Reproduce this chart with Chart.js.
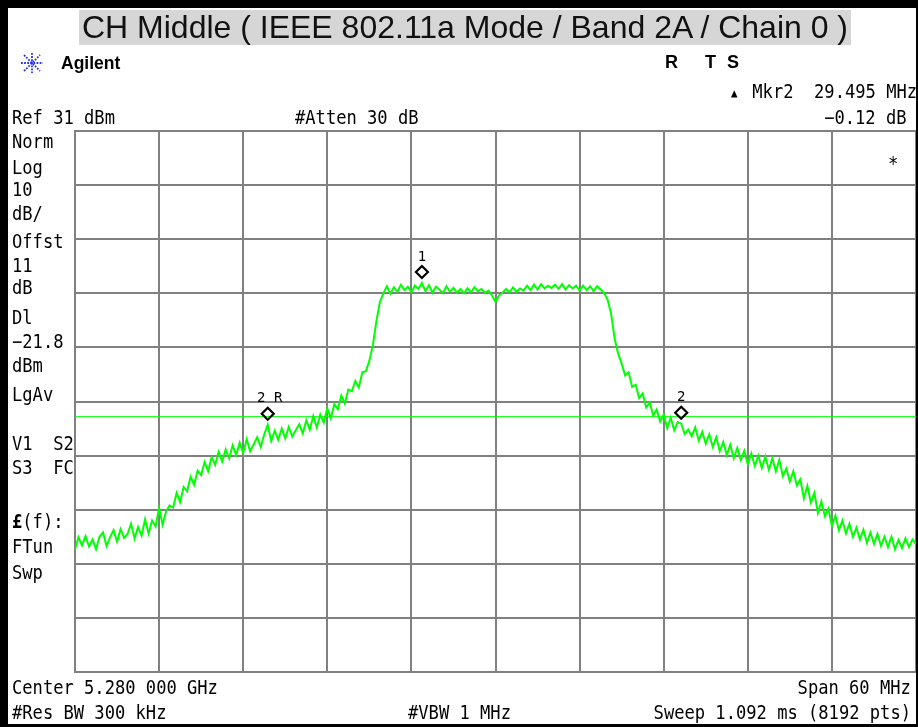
<!DOCTYPE html>
<html>
<head>
<meta charset="utf-8">
<script src="https://cdn.jsdelivr.net/npm/chart.js@4.4.1/dist/chart.umd.min.js"></script>
<style>
  html, body { margin: 0; padding: 0; background: #fff; }
  #wrap { position: relative; width: 918px; height: 727px; overflow: hidden; }
  #c { position: absolute; left: 0; top: 0; }
  #frame { position: absolute; left: 0; top: 0; width: 918px; height: 727px; box-sizing: border-box;
           border-top: 8px solid #000; border-left: 8px solid #000; border-right: 2px solid #000; border-bottom: 3px solid #000; pointer-events: none; }
  #title { position: absolute; left: 79px; top: 10px; width: 772px; height: 35px; background: #d6d6d6;
           font: 32px "Liberation Sans", Arial, sans-serif; line-height: 35px; text-align: center; color: #111; white-space: pre; }
  .m { position: absolute; font-family: "DejaVu Sans Mono", monospace; font-size: 19px; line-height: 20px;
       white-space: pre; color: #000; transform: scaleX(0.9); transform-origin: 0 50%; }
  .m.r { transform-origin: 100% 50%; }
  .b { position: absolute; font: bold 18px "Liberation Sans", Arial, sans-serif; line-height: 20px; color: #000; }
</style>
</head>
<body>
<div id="wrap">
  <canvas id="c" width="918" height="727"></canvas>
  <div id="title">CH Middle ( IEEE 802.11a Mode / Band 2A / Chain 0 )</div>

  <svg style="position:absolute;left:20px;top:52px" width="24" height="22" viewBox="-12 -11 24 22">
    <g stroke="#2a36e0" stroke-width="1.8" stroke-dasharray="1.8 1.3">
      <line x1="0" y1="-10" x2="0" y2="10"/><line x1="-11" y1="0" x2="11" y2="0"/>
      <line x1="-8" y1="-8" x2="8" y2="8"/><line x1="-8" y1="8" x2="8" y2="-8"/>
    </g>
  </svg>
  <div class="b" style="left:61px;top:53px;font-size:17.5px">Agilent</div>
  <div class="b" style="left:665px;top:52px">R</div>
  <div class="b" style="left:705px;top:52px">T</div>
  <div class="b" style="left:727px;top:52px">S</div>

  <div class="m" style="left:731px;top:83px;font-size:12px">▲</div>
  <div class="m r" style="right:1px;top:81px">Mkr2  29.495 MHz</div>
  <div class="m" style="left:12px;top:107px">Ref 31 dBm</div>
  <div class="m" style="left:295px;top:107px">#Atten 30 dB</div>
  <div class="m r" style="right:11px;top:107px">−0.12 dB</div>
  <div class="m" style="left:888px;top:153px">*</div>

  <div class="m" style="left:12px;top:131px">Norm</div>
  <div class="m" style="left:12px;top:157px">Log</div>
  <div class="m" style="left:12px;top:179px">10</div>
  <div class="m" style="left:12px;top:203px">dB/</div>
  <div class="m" style="left:12px;top:231px">Offst</div>
  <div class="m" style="left:12px;top:255px">11</div>
  <div class="m" style="left:12px;top:277px">dB</div>
  <div class="m" style="left:12px;top:307px">Dl</div>
  <div class="m" style="left:12px;top:331px">−21.8</div>
  <div class="m" style="left:12px;top:355px">dBm</div>
  <div class="m" style="left:12px;top:384px">LgAv</div>
  <div class="m" style="left:12px;top:433px">V1  S2</div>
  <div class="m" style="left:12px;top:457px">S3  FC</div>
  <div class="m" style="left:12px;top:511px"><b>£</b>(f):</div>
  <div class="m" style="left:12px;top:536px">FTun</div>
  <div class="m" style="left:12px;top:562px">Swp</div>

  <div class="m" style="left:12px;top:677px">Center 5.280 000 GHz</div>
  <div class="m r" style="right:7px;top:677px">Span 60 MHz</div>
  <div class="m" style="left:12px;top:702px">#Res BW 300 kHz</div>
  <div class="m" style="left:408px;top:702px">#VBW 1 MHz</div>
  <div class="m r" style="right:7px;top:702px">Sweep 1.092 ms (8192 pts)</div>

  <div id="frame"></div>
</div>
<script>
// sweep: -30 .. +30 MHz around 5.280 GHz, one reading every 0.25 MHz (dBm)
const sweepStartMHz = -30;
const sweepStepMHz = 0.25;
const traceLevels = [
  -46.4, -44.1, -45.6, -43.9,   // -30
  -45.8, -44.5, -46.3, -44.0,   // -29
  -43.2, -45.7, -44.1, -42.8,   // -28
  -44.9, -42.6, -44.2, -43.5,   // -27
  -41.6, -44.3, -42.2, -43.8,   // -26
  -40.8, -43.4, -41.0, -42.1,   // -25
  -38.7, -41.8, -39.3, -38.2,   // -24
  -38.6, -35.9, -37.6, -34.8,   // -23
  -35.6, -32.9, -34.4, -31.8,   // -22
  -32.6, -30.2, -31.9, -29.3,   // -21
  -30.7, -28.3, -30.1, -27.9,   // -20
  -29.5, -27.1, -28.9, -26.6,   // -19
  -28.5, -26.0, -28.2, -26.9,   // -18
  -25.6, -27.4, -25.1, -23.3,   // -17
  -26.3, -24.4, -26.1, -24.0,   // -16
  -25.8, -23.7, -25.5, -24.3,   // -15
  -23.2, -24.9, -22.5, -24.2,   // -14
  -21.7, -23.8, -21.4, -22.9,   // -13
  -20.3, -22.1, -19.5, -20.4,   // -12
  -17.9, -19.4, -16.8, -17.1,   // -11
  -15.2, -16.4, -13.6, -13.4,   // -10
  -11.5,  -8.6,  -4.2,  -0.6,   // -9
    1.0,   2.3,   0.9,   2.1,   // -8
    1.3,   2.6,   1.6,   2.2,   // -7
    1.2,   2.4,   1.8,   2.9,   // -6
    1.4,   2.5,   1.1,   2.2,   // -5
    1.7,   1.0,   2.3,   1.3,   // -4
    2.0,   1.1,   1.8,   1.0,   // -3
    1.9,   1.2,   2.1,   1.4,   // -2
    1.8,   1.1,   1.5,   0.6,   // -1
   -0.6,   0.6,   1.1,   1.8,   // 0
    1.2,   2.1,   1.3,   1.9,   // 1
    1.5,   2.4,   1.6,   2.6,   // 2
    1.7,   2.7,   1.9,   2.4,   // 3
    2.0,   2.6,   1.8,   2.7,   // 4
    1.7,   2.5,   1.9,   2.4,   // 5
    1.5,   2.4,   1.6,   2.3,   // 6
    1.4,   2.3,   1.7,   1.1,   // 7
   -0.2,  -2.8,  -7.4, -10.1,   // 8
  -12.0, -14.2, -13.6, -16.3,   // 9
  -15.9, -18.4, -17.5, -20.1,   // 10
  -19.2, -21.6, -20.5, -22.7,   // 11
  -21.4, -23.9, -22.0, -24.3,   // 12
  -22.8, -23.1, -25.0, -24.2,   // 13
  -25.4, -23.8, -26.2, -24.6,   // 14
  -26.8, -25.1, -27.4, -25.6,   // 15
  -28.2, -26.5, -28.9, -27.0,   // 16
  -29.5, -27.6, -29.8, -28.1,   // 17
  -30.6, -28.6, -30.9, -29.0,   // 18
  -31.3, -29.2, -31.6, -29.5,   // 19
  -31.9, -29.8, -32.8, -31.4,   // 20
  -33.8, -31.9, -34.5, -33.4,   // 21
  -36.9, -34.6, -37.7, -35.9,   // 22
  -39.6, -37.5, -40.2, -38.8,   // 23
  -42.0, -40.1, -42.8, -41.0,   // 24
  -43.4, -41.6, -44.0, -42.3,   // 25
  -44.5, -42.7, -45.1, -43.2,   // 26
  -45.3, -43.5, -45.7, -44.0,   // 27
  -45.9, -44.0, -46.3, -44.6,   // 28
  -46.1, -44.3, -45.9, -44.5,   // 29
  -45.4                         // 30
];

const xGridMHz = [-30, -24, -18, -12, -6, 0, 6, 12, 18, 24, 30];
const yGridDbm = [31, 21, 11, 1, -9, -19, -29, -39, -49, -59, -69];
const displayLineDbm = -21.8;

const markerNames = ['1', '2R', '2'];
const markerFreqs = [-5.25, -16.25, 13.25];
const markerLevels = [2.9, -23.3, -23.1];

const tracePoints = traceLevels.map((v, i) => ({ x: sweepStartMHz + i * sweepStepMHz, y: v }));
const linePoints = [xGridMHz[0], xGridMHz[xGridMHz.length - 1]].map(f => ({ x: f, y: displayLineDbm }));

const markerPlugin = {
  id: 'markers',
  afterDatasetsDraw(chart) {
    const ctx = chart.ctx, xs = chart.scales.x, ys = chart.scales.y;
    ctx.save();
    for (let i = 0; i < markerNames.length; i++) {
      const px = xs.getPixelForValue(markerFreqs[i]);
      const cy = ys.getPixelForValue(markerLevels[i]) - 11;
      ctx.strokeStyle = '#000';
      ctx.lineWidth = 2.2;
      ctx.beginPath();
      ctx.moveTo(px, cy - 6); ctx.lineTo(px + 6, cy); ctx.lineTo(px, cy + 6); ctx.lineTo(px - 6, cy); ctx.closePath();
      ctx.stroke();
      ctx.fillStyle = '#000';
      ctx.font = '14px "DejaVu Sans Mono", monospace';
      ctx.textAlign = 'center';
      ctx.textBaseline = 'middle';
      ctx.fillText(markerNames[i].split('').join(' '), px + (markerNames[i].length > 1 ? 2 : 0), cy - 15);
    }
    ctx.restore();
  }
};

const gridColor = '#808080';
new Chart(document.getElementById('c'), {
  type: 'line',
  data: {
    datasets: [
      { data: tracePoints, borderColor: '#00ff00', borderWidth: 2, pointRadius: 0, tension: 0 },
      { data: linePoints, borderColor: '#00ff00', borderWidth: 1, pointRadius: 0 }
    ]
  },
  options: {
    responsive: false,
    animation: false,
    devicePixelRatio: 1,
    layout: { padding: { left: 75, top: 131, right: 2, bottom: 55 } },
    plugins: { legend: { display: false }, tooltip: { enabled: false } },
    scales: {
      x: {
        type: 'linear', min: -30, max: 30,
        afterBuildTicks: axis => { axis.ticks = xGridMHz.map(v => ({ value: v })); },
        ticks: { display: false },
        grid: { color: gridColor, lineWidth: 2, drawTicks: false },
        border: { display: true, color: gridColor, width: 2 }
      },
      y: {
        type: 'linear', min: -69, max: 31,
        afterBuildTicks: axis => { axis.ticks = yGridDbm.map(v => ({ value: v })); },
        ticks: { display: false },
        grid: { color: gridColor, lineWidth: 2, drawTicks: false },
        border: { display: true, color: gridColor, width: 2 }
      }
    }
  },
  plugins: [markerPlugin]
});
</script>
</body>
</html>
